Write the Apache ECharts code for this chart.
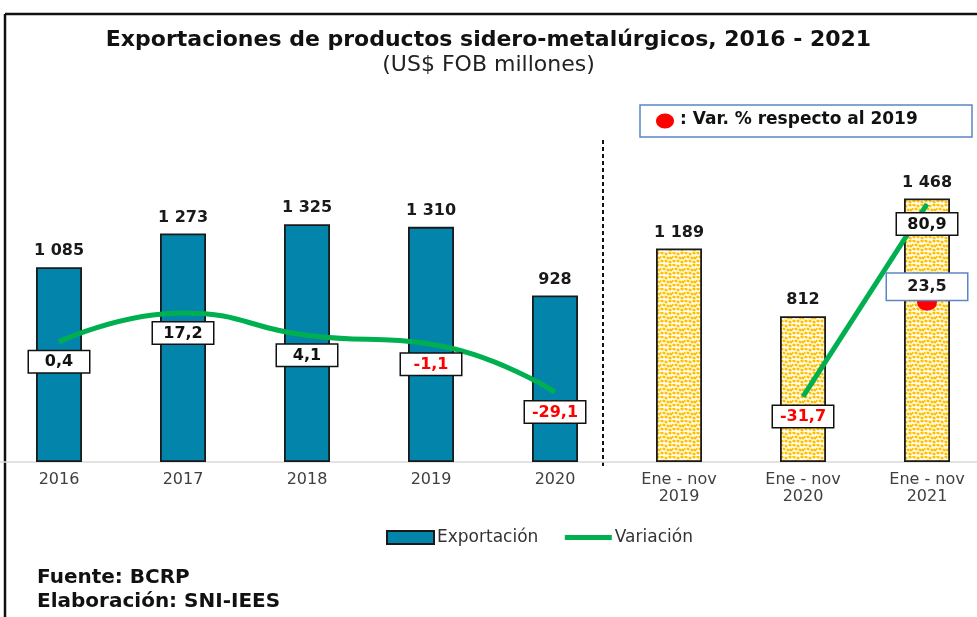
<!DOCTYPE html>
<html>
<head>
<meta charset="utf-8">
<script src="https://cdn.jsdelivr.net/npm/echarts@6/dist/echarts.min.js"></script>
<style>
html,body{margin:0;padding:0;background:#fff;}
#chart{width:977px;height:617px;}
</style>
</head>
<body>
<div id="chart"></div>
<script>
var categories = ['2016','2017','2018','2019','2020','Ene - nov\n2019','Ene - nov\n2020','Ene - nov\n2021'];
var exportValues = [1085, 1273, 1325, 1310, 928, 1189, 812, 1468];
var varAnual = [0.4, 17.2, 4.1, -1.1, -29.1, null, null, null];
var varEneNov = [null, null, null, null, null, null, -31.7, 80.9];
var var2019 = [null, null, null, null, null, null, null, 23.5];

// dotted yellow pattern for the Jan-Nov bars
function dotPattern(){
	var c = document.createElement('canvas');
	c.width = 12; c.height = 12;
	var ctx = c.getContext('2d');
	ctx.fillStyle = '#fffdf3';
	ctx.fillRect(0,0,12,12);
	ctx.fillStyle = '#ffc000';
	var pts = [[2,1],[6,2],[10,1],[0,5],[4,5],[8,6],[2,9],[6,9],[10,10],[11,6]];
	pts.forEach(function(p){
		ctx.beginPath();
		ctx.ellipse(p[0], p[1], 1.7, 1.3, 0.4, 0, Math.PI*2);
		ctx.fill();
	});
	return c;
}
var pattern = {image: dotPattern(), repeat: 'repeat'};

function fmtThousands(v){
	var s = String(v);
	return s.length > 3 ? s.slice(0, s.length-3) + ' ' + s.slice(-3) : s;
}
function fmtDec(v){
	return String(v).replace('.', ',');
}

var barData = exportValues.map(function(v, i){
	if (i >= 5) return {value: v, itemStyle: {color: pattern}};
	return v;
});

var FONT = 'DejaVu Sans';

var boxLabel = {
	show: true,
	position: 'bottom',
	distance: 9,
	fontFamily: FONT,
	fontWeight: 'bold',
	fontSize: 16,
	width: 48,
	align: 'center',
	padding: [3, 6, 2, 6],
	backgroundColor: '#fff',
	borderColor: '#111',
	borderWidth: 1.5,
	formatter: function(p){
		return p.value < 0 ? '{neg|' + fmtDec(p.value) + '}' : fmtDec(p.value);
	},
	rich: {
		neg: {color: '#ff0000', fontFamily: FONT, fontWeight: 'bold', fontSize: 16}
	},
	color: '#111'
};

var myChart = echarts.init(document.getElementById('chart'));
var option = {
	animation: false,
	title: {
		text: 'Exportaciones de productos sidero-metalúrgicos, 2016 - 2021',
		subtext: '(US$ FOB millones)',
		left: 'center',
		top: 24,
		itemGap: 3,
		textStyle: {fontFamily: FONT, fontWeight: 'bold', fontSize: 22, color: '#111'},
		subtextStyle: {fontFamily: FONT, fontSize: 22, color: '#222'}
	},
	legend: {
		data: [
			{name: 'Exportación', icon: 'rect'},
			{name: 'Variación', itemStyle: {opacity: 0}, lineStyle: {width: 5}}
		],
		left: 381,
		top: 524,
		itemWidth: 47,
		itemHeight: 13,
		itemGap: 24,
		textStyle: {fontFamily: FONT, fontSize: 17, color: '#333', padding: [0,0,0,-2]}
	},
	grid: {left: -3, right: -12, top: 103, bottom: 155, containLabel: false, outerBoundsMode: 'none'},
	xAxis: {
		type: 'category',
		data: categories,
		axisLine: {lineStyle: {color: '#d9d9d9', width: 1.5}},
		axisTick: {show: false},
		axisLabel: {color: '#404040', fontFamily: FONT, fontSize: 16, margin: 9, lineHeight: 17}
	},
	yAxis: [
		{type: 'value', min: 0, max: 2000, show: false, splitLine: {show: false}},
		{type: 'value', min: -70, max: 140, show: false, splitLine: {show: false}}
	],
	series: [
		{
			name: 'Exportación',
			type: 'bar',
			barWidth: 46,
			data: barData,
			itemStyle: {color: '#0384aa', borderColor: '#1a1a1a', borderWidth: 1.8},
			label: {
				show: true,
				position: 'top',
				distance: 8,
				fontFamily: FONT,
				fontWeight: 'bold',
				fontSize: 16,
				color: '#1a1a1a',
				formatter: function(p){ return fmtThousands(p.value); }
			},
			z: 2
		},
		{
			name: 'Variación',
			type: 'line',
			yAxisIndex: 1,
			smooth: true,
			symbol: 'circle',
			symbolSize: 1,
			showSymbol: true,
			data: varAnual,
			lineStyle: {color: '#00b050', width: 5},
			itemStyle: {color: '#00b050'},
			label: boxLabel,
			z: 3
		},
		{
			name: 'Variación',
			type: 'line',
			yAxisIndex: 1,
			symbol: 'circle',
			symbolSize: 1,
			showSymbol: true,
			data: varEneNov,
			lineStyle: {color: '#00b050', width: 5},
			itemStyle: {color: '#00b050'},
			label: boxLabel,
			z: 3
		},
		{
			name: 'Var. % respecto al 2019',
			type: 'scatter',
			yAxisIndex: 1,
			symbol: 'circle',
			symbolSize: [20, 17],
			data: var2019,
			itemStyle: {color: '#ff0000', opacity: 1},
			z: 4
		},
		{
			name: 'Var. % respecto al 2019 etiqueta',
			type: 'scatter',
			yAxisIndex: 1,
			symbolSize: 1,
			data: var2019,
			itemStyle: {color: 'rgba(0,0,0,0)', opacity: 1},
			label: {
				show: true,
				position: 'top',
				distance: 2,
				opacity: 1,
				fontFamily: FONT,
				fontWeight: 'bold',
				fontSize: 16,
				color: '#1a1a1a',
				width: 68,
				align: 'center',
				padding: [5, 6, 5, 6],
				backgroundColor: '#fff',
				borderColor: '#5b86c5',
				borderWidth: 1.5,
				formatter: function(p){ return fmtDec(p.value); }
			},
			z: 5
		}
	],
	graphic: [
		{type: 'line', shape: {x1: 5, y1: 14, x2: 977, y2: 14}, style: {stroke: '#111', lineWidth: 2.5}},
		{type: 'line', shape: {x1: 5, y1: 14, x2: 5, y2: 617}, style: {stroke: '#111', lineWidth: 2.5}},
		{type: 'line', shape: {x1: 603, y1: 140, x2: 603, y2: 466}, style: {stroke: '#111', lineWidth: 2, lineDash: [4, 3]}},
		{type: 'rect', shape: {x: 640, y: 105, width: 332, height: 32}, style: {fill: '#fff', stroke: '#5b86c5', lineWidth: 1.5}},
		{type: 'ellipse', shape: {cx: 665, cy: 121, rx: 9, ry: 7.5}, style: {fill: '#ff0000'}},
		{type: 'text', left: 680, top: 111, style: {text: ': Var. % respecto al 2019', font: 'bold 17px "DejaVu Sans"', fill: '#111'}},
		{type: 'text', left: 37, top: 568, style: {text: 'Fuente: BCRP', font: 'bold 20px "DejaVu Sans"', fill: '#111'}},
		{type: 'text', left: 37, top: 592, style: {text: 'Elaboración: SNI-IEES', font: 'bold 20px "DejaVu Sans"', fill: '#111'}}
	]
};
myChart.setOption(option);
</script>
</body>
</html>
